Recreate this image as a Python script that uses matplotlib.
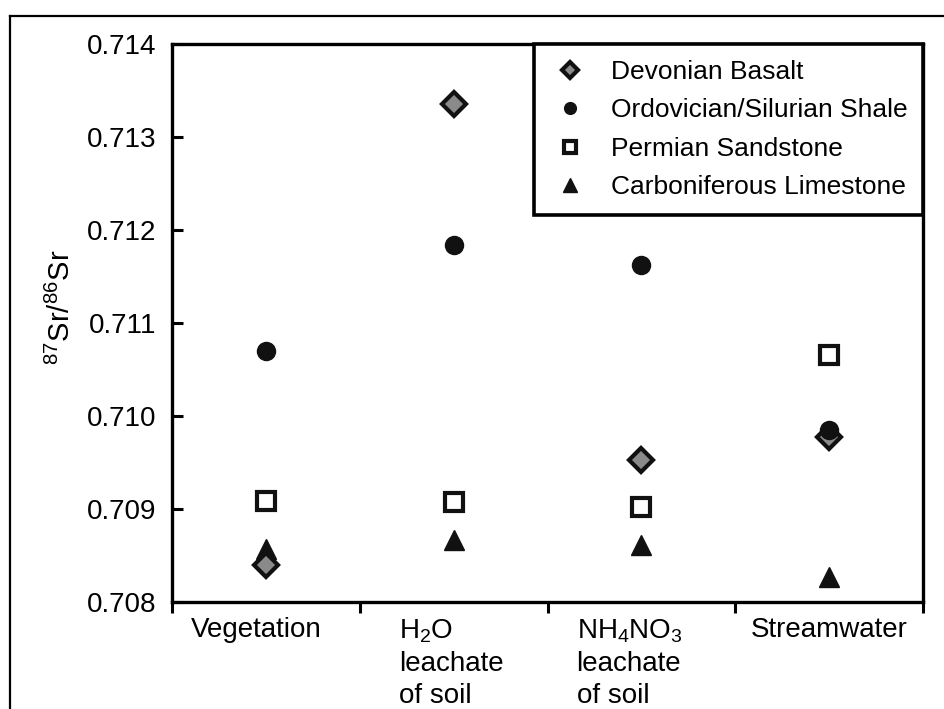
import matplotlib
matplotlib.use('Agg')
import matplotlib.pyplot as plt
from matplotlib.lines import Line2D
import matplotlib.transforms as mtransforms
import numpy as np

plt.rcParams['font.family'] = ['Liberation Sans', 'DejaVu Sans']
plt.rcParams['mathtext.fontset'] = 'custom'
plt.rcParams['mathtext.rm'] = 'Liberation Sans'
plt.rcParams['mathtext.it'] = 'Liberation Sans'

categories = ['Vegetation', 'H$_\\mathregular{2}$O\nleachate\nof soil',
              'NH$_\\mathregular{4}$NO$_\\mathregular{3}$\nleachate\nof soil', 'Streamwater']
devonian_basalt = [0.70840, 0.71335, 0.70953, 0.70977]
ordovician_shale = [0.71070, 0.71184, 0.71162, 0.70985]
permian_sandstone = [0.70909, 0.70908, 0.70902, 0.71066]
carboniferous_limestone = [0.70857, 0.70867, 0.70861, 0.70827]

x = np.arange(len(categories)) + 0.5

fig = plt.figure(figsize=(9.44, 7.09), dpi=100)
ax = fig.add_axes([0.1822, 0.1509, 0.7956, 0.7871])

ax.plot(x, carboniferous_limestone, '^', ms=15, color='#111111', zorder=2,
        label='Carboniferous Limestone')
ax.plot(x, devonian_basalt, 'D', ms=12, mfc='#8a8a8a', mec='#111111', mew=3, zorder=3,
        label='Devonian Basalt')
ax.plot(x, permian_sandstone, 's', ms=12.5, mfc='white', mec='#111111', mew=3, zorder=4,
        label='Permian Sandstone')
ax.plot(x, ordovician_shale, 'o', ms=13, color='#111111', zorder=4,
        label='Ordovician/Silurian Shale')

ax.set_xlim(0, len(categories))
ax.set_ylim(0.708, 0.714)
ax.set_yticks(np.arange(0.708, 0.7141, 0.001))
ax.set_yticklabels(['%.3f' % v for v in np.arange(0.708, 0.7141, 0.001)])

# ticks at category boundaries, labels drawn as text under each category
ax.set_xticks(np.arange(len(categories) + 1))
ax.set_xticklabels([])
nudges = [-10, -2, -12, 0]  # small horizontal nudges in pixels
for xi, cat, dx in zip(x, categories, nudges):
    tr = ax.get_xaxis_transform() + mtransforms.ScaledTranslation(dx / 100, -0.15,
                                                                   fig.dpi_scale_trans)
    ax.text(xi, 0, cat, transform=tr, ha='center', va='top', multialignment='left',
            linespacing=1.3, fontsize=20)

ax.tick_params(axis='y', direction='in', length=8, width=2.2, labelsize=20, pad=11.5)
ax.tick_params(axis='x', which='major', direction='out', length=8, width=2.2)
for sp in ax.spines.values():
    sp.set_linewidth(2.4)

ax.set_ylabel('$^{\\mathregular{87}}$Sr/$^{\\mathregular{86}}$Sr', fontsize=21)
ax.yaxis.set_label_coords(-0.128, 0.528)

h = ax.get_legend_handles_labels()
order = ['Devonian Basalt', 'Ordovician/Silurian Shale', 'Permian Sandstone', 'Carboniferous Limestone']
hd = dict(zip(h[1], h[0]))
leg = ax.legend([hd[k] for k in order], order, loc='upper right', borderaxespad=0,
                fontsize=19, markerscale=0.65, frameon=True, fancybox=False,
                edgecolor='black', framealpha=1, handletextpad=0.72, labelspacing=0.55,
                borderpad=0.6, handlelength=1.6)
leg.get_frame().set_linewidth(2.6)

# outer frame
fig.add_artist(Line2D([10 / 944, 10 / 944], [0, 1 - 16 / 709], color='black', lw=1.6,
                      transform=fig.transFigure))
fig.add_artist(Line2D([10 / 944, 1], [1 - 16 / 709, 1 - 16 / 709], color='black', lw=1.6,
                      transform=fig.transFigure))

fig.savefig('out.png', dpi=100, facecolor='white')
